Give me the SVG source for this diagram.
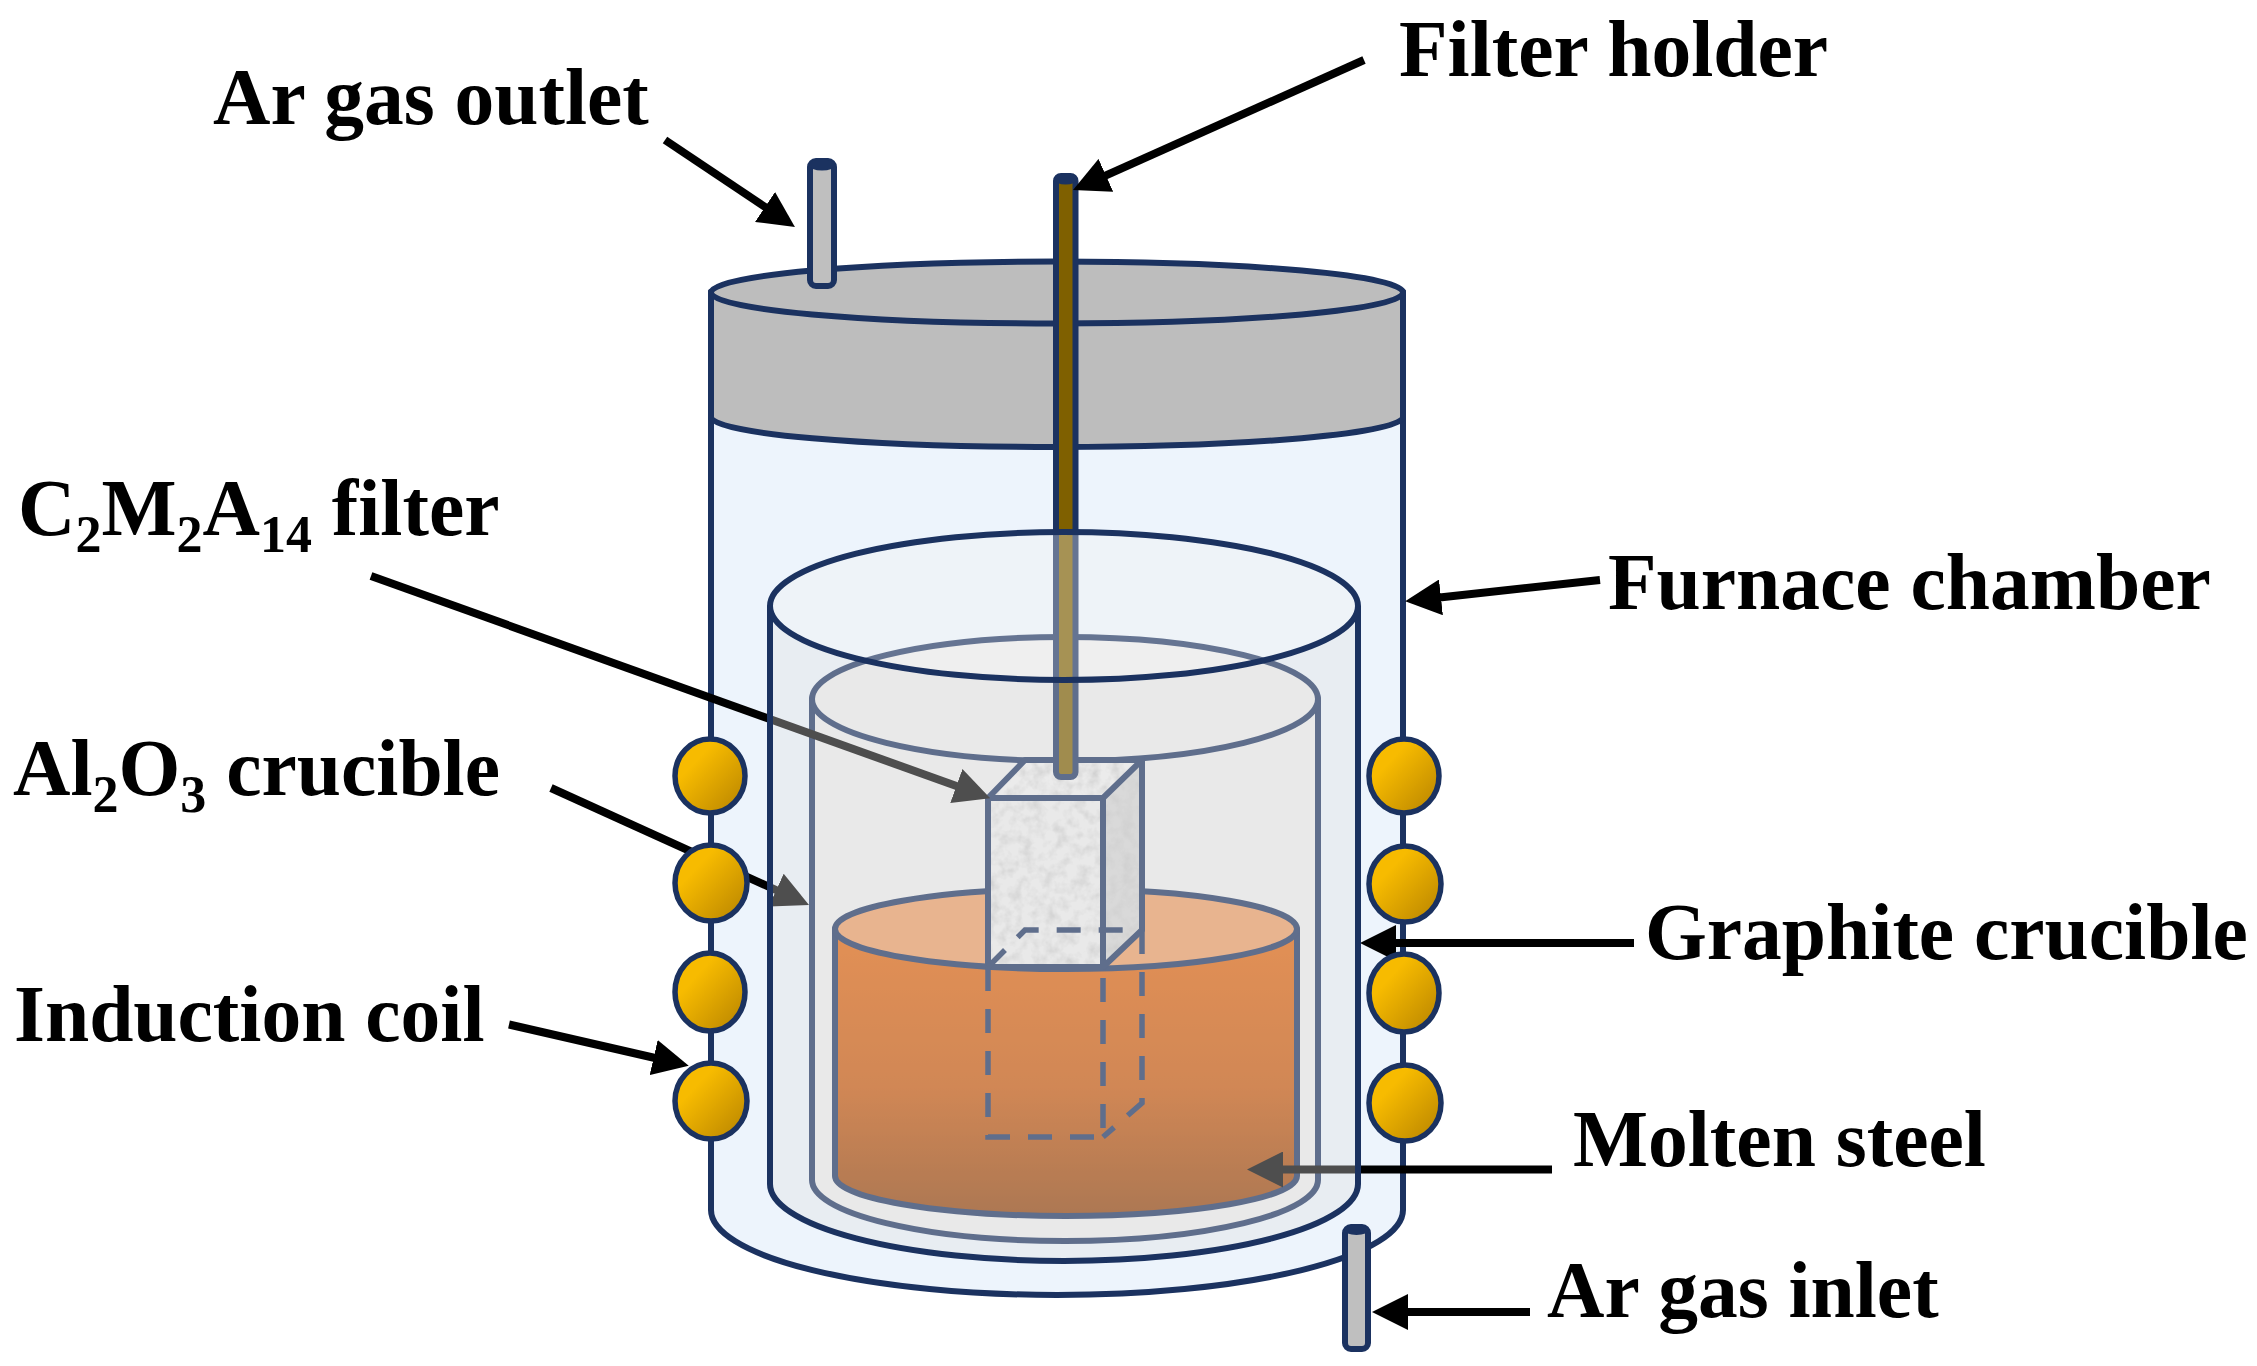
<svg xmlns="http://www.w3.org/2000/svg" width="2257" height="1366" viewBox="0 0 2257 1366">
<style>
.n{stroke:#1b3260;stroke-width:6;stroke-linejoin:round}
.a{stroke:#000;stroke-width:8;fill:none;marker-end:url(#head)}
.t{font-family:"Liberation Serif","Times New Roman",serif;font-weight:700;font-size:79.5px;fill:#000}
.s{font-size:52px}
.d{fill:none;stroke:#1b3260;stroke-width:5.5;stroke-dasharray:24 18}
.coil{fill:url(#gold);stroke:#1b3260;stroke-width:5.5}
</style>
<defs>
<marker id="head" markerUnits="userSpaceOnUse" markerWidth="36" markerHeight="36" viewBox="0 0 36 36" refX="6" refY="18" orient="auto"><polygon points="0,0 36,18 0,36" fill="#000"/></marker>
<linearGradient id="gold" x1="0.1" y1="0.1" x2="0.9" y2="0.9"><stop offset="0.25" stop-color="#f7bb00"/><stop offset="1" stop-color="#bf8a00"/></linearGradient>
<linearGradient id="steel" gradientUnits="userSpaceOnUse" x1="0" y1="930" x2="0" y2="1216"><stop offset="0" stop-color="#e4660c"/><stop offset="0.55" stop-color="#c9580b"/><stop offset="1" stop-color="#914008"/></linearGradient>
<filter id="stone" x="0" y="0" width="1" height="1"><feTurbulence type="fractalNoise" baseFrequency="0.09" numOctaves="3" seed="4" result="n"/><feColorMatrix in="n" type="matrix" values="0 0 0 0 0.55 0 0 0 0 0.55 0 0 0 0 0.55 1.6 0 0 0 -0.62" result="g"/><feComposite in="g" in2="SourceAlpha" operator="in" result="c"/><feMerge><feMergeNode in="SourceGraphic"/><feMergeNode in="c"/></feMerge></filter>
</defs>
<rect width="2257" height="1366" fill="#fff"/>
<g id="furnace-chamber"><path class="n" fill="#edf4fc" d="M711,292V1210A346,85 0 0 0 1403,1210V292Z"/></g>
<g id="lid"><path class="n" fill="#bdbdbd" d="M711,292V417A346,30 0 0 0 1403,417V292Z"/><ellipse class="n" fill="#bdbdbd" cx="1057" cy="292.5" rx="346" ry="31"/></g>
<g id="ar-gas-outlet"><rect class="n" fill="#bfbfbf" x="810" y="161" width="24" height="125" rx="6"/><ellipse cx="822" cy="165" rx="13" ry="5.5" fill="#1b3260"/></g>
<g id="graphite-crucible"><path class="n" fill="#eeeeee" d="M812,699V1180A253,61 0 0 0 1318,1180V699Z"/><ellipse class="n" fill="#eeeeee" cx="1065" cy="699" rx="253" ry="62"/></g>
<g id="molten-steel"><path class="n" fill="url(#steel)" d="M835,929V1176A231,40 0 0 0 1297,1176V929Z"/><ellipse class="n" fill="#ed9d65" cx="1066" cy="929" rx="231" ry="40"/></g>
<g id="filter">
<polygon points="988,798 1025,760 1142,760 1103,798" fill="#f1f1f1" filter="url(#stone)"/>
<rect x="988" y="798" width="115" height="169" fill="#efefef" filter="url(#stone)"/>
<polygon points="1103,798 1142,760 1142,930 1103,967" fill="#d6d6d6" filter="url(#stone)"/>
<path class="n" fill="none" d="M988,798L1025,760H1142L1103,798H988V967H1103V798M1142,760V930L1103,967"/>
<path class="d" d="M988,967L1025,930H1142M988,967V1137H1103V967M1142,930V1103L1103,1137"/>
</g>
<g id="filter-holder"><rect class="n" fill="#7f6000" x="1056" y="176" width="19.5" height="601" rx="5"/><ellipse cx="1065.7" cy="179" rx="11.5" ry="5.5" fill="#1b3260"/></g>
<g id="connectors">
<line class="a" x1="665" y1="140" x2="770" y2="210.3"/>
<line class="a" x1="1364" y1="60" x2="1100.4" y2="177.8"/>
<line class="a" x1="1600" y1="580" x2="1435" y2="598"/>
<line class="a" x1="371" y1="576" x2="962" y2="788"/>
<line class="a" x1="551" y1="788" x2="781.7" y2="892.6"/>
<line class="a" x1="509" y1="1024.5" x2="659.5" y2="1059"/>
<line class="a" x1="1634" y1="943" x2="1390" y2="943"/>
<line class="a" x1="1552" y1="1169.5" x2="1277" y2="1169.5"/>
<line class="a" x1="1530" y1="1312" x2="1402" y2="1312"/>
</g>
<g id="al2o3-crucible">
<path fill="#e0e0e0" fill-opacity="0.35" d="M770,606V1184A294,77 0 0 0 1358,1184V606A294,74 0 0 1 770,606Z"/>
<ellipse fill="#f2f2f2" fill-opacity="0.35" cx="1064" cy="606" rx="294" ry="74"/>
<path class="n" fill="none" d="M770,606V1184A294,77 0 0 0 1358,1184V606"/>
<ellipse class="n" fill="none" cx="1064" cy="606" rx="294" ry="74"/>
</g>
<g id="induction-coil">
<ellipse class="coil" cx="710" cy="776" rx="35" ry="37"/>
<ellipse class="coil" cx="711" cy="883" rx="36" ry="38"/>
<ellipse class="coil" cx="710" cy="992" rx="35" ry="39"/>
<ellipse class="coil" cx="711" cy="1101" rx="36" ry="38"/>
<ellipse class="coil" cx="1404" cy="776" rx="35" ry="37"/>
<ellipse class="coil" cx="1405" cy="884" rx="36" ry="38"/>
<ellipse class="coil" cx="1404" cy="993" rx="35" ry="39"/>
<ellipse class="coil" cx="1405" cy="1103" rx="36" ry="38"/>
</g>
<g id="ar-gas-inlet"><rect class="n" fill="#bfbfbf" x="1345" y="1227" width="23" height="122" rx="6"/><ellipse cx="1356.5" cy="1230" rx="12.5" ry="5" fill="#1b3260"/></g>
<g id="labels">
<text class="t" x="213" y="124">Ar gas outlet</text>
<text class="t" x="1399" y="76">Filter holder</text>
<text class="t" x="1608" y="609">Furnace chamber</text>
<text class="t" x="18" y="535">C<tspan class="s" dy="17">2</tspan><tspan dy="-17">M</tspan><tspan class="s" dy="17">2</tspan><tspan dy="-17">A</tspan><tspan class="s" dy="17">14</tspan><tspan dy="-17"> filter</tspan></text>
<text class="t" x="13" y="795">Al<tspan class="s" dy="17">2</tspan><tspan dy="-17">O</tspan><tspan class="s" dy="17">3</tspan><tspan dy="-17"> crucible</tspan></text>
<text class="t" x="14" y="1041">Induction coil</text>
<text class="t" x="1645" y="959">Graphite crucible</text>
<text class="t" x="1573" y="1166">Molten steel</text>
<text class="t" x="1547" y="1317">Ar gas inlet</text>
</g>
</svg>
